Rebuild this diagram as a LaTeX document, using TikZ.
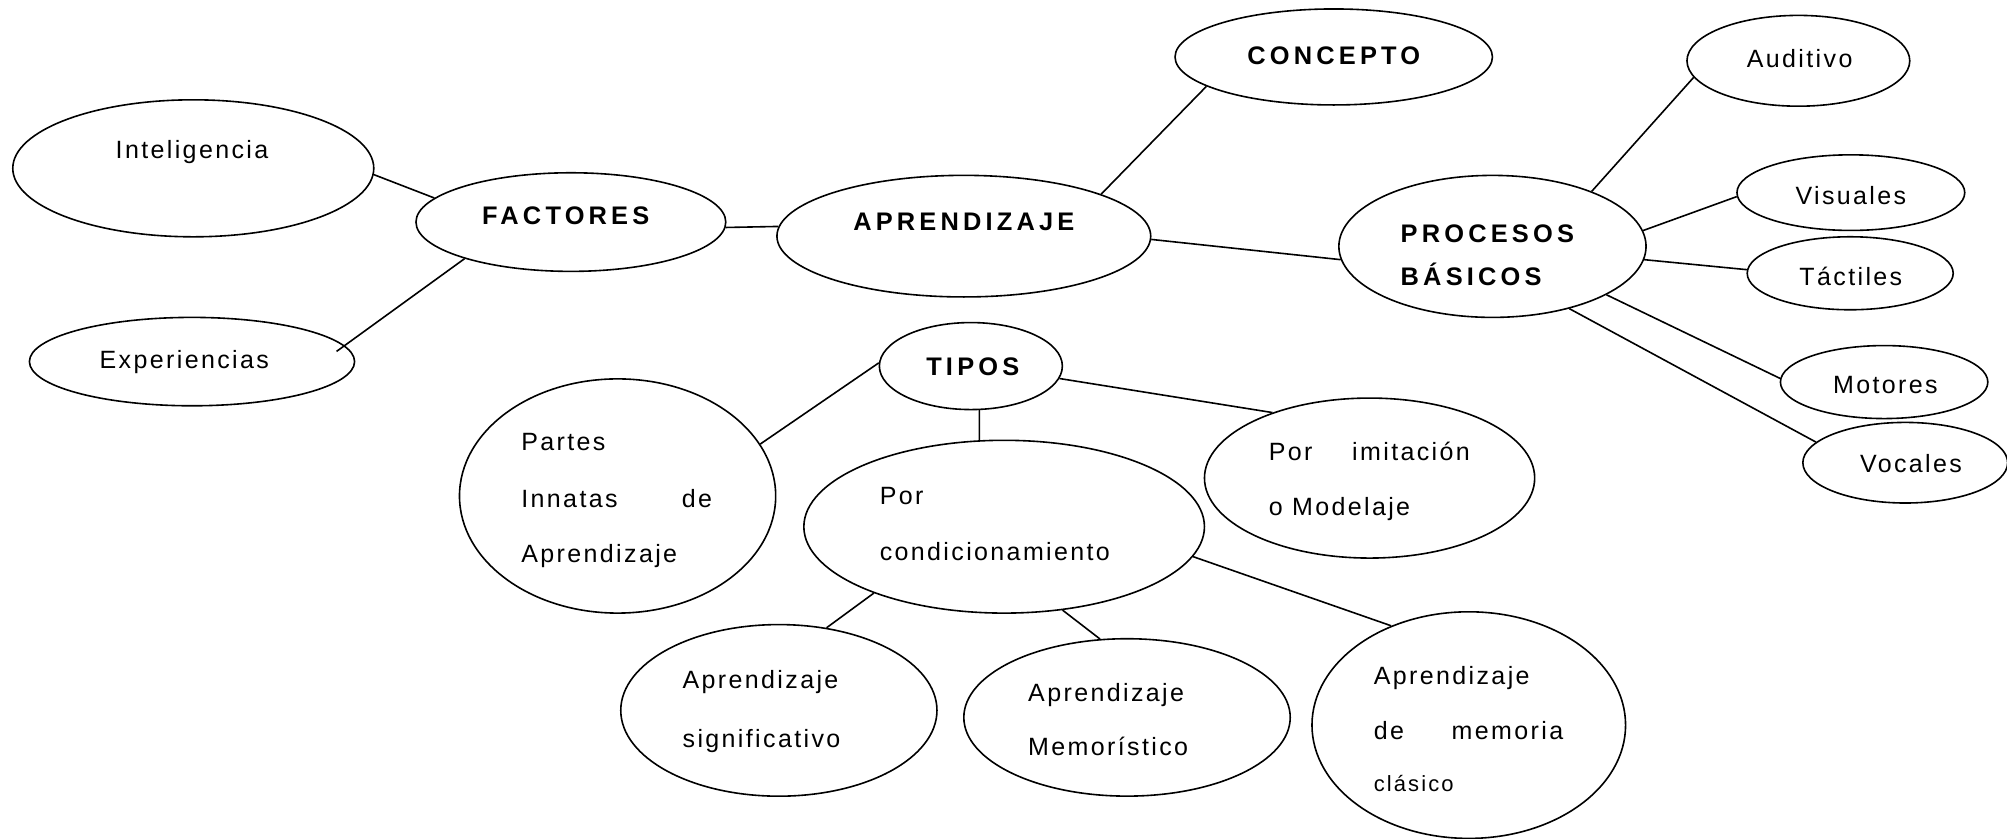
\documentclass[tikz,border=0pt]{standalone}
\usepackage{fontspec}
\setmainfont{Liberation Sans}[LetterSpace=9.5]
\newfontfamily\hdfont{Liberation Sans}[LetterSpace=16.5]
\usetikzlibrary{shapes.geometric}
\tikzset{
  el/.style 2 args={ellipse,draw,line width=0.8pt,inner sep=0pt,minimum width=#1,minimum height=#2},
  txt/.style={font=\fontsize{12.5pt}{15pt}\selectfont,inner sep=0pt},
  sm/.style={font=\fontsize{11pt}{13pt}\selectfont,inner sep=0pt},
  hd/.style={font=\hdfont\bfseries\fontsize{12.7pt}{15pt}\selectfont,inner sep=0pt},
  link/.style={line width=0.8pt}
}
\begin{document}
\begin{tikzpicture}[x=0.64pt,y=-0.64pt]
\useasboundingbox (0,0) rectangle (1568,655);
% ellipses
\node[el={180.5pt}{68.5pt}] (intel) at (151,131.5) {};
\node[el={162.6pt}{44.2pt}] (exper) at (150,282.5) {};
\node[el={154.9pt}{49.3pt}] (fact) at (446,173.5) {};
\node[el={186.9pt}{60.8pt}] (apren) at (753,184.5) {};
\node[el={158.7pt}{48pt}] (conc) at (1042,44.5) {};
\node[el={153.6pt}{71pt}] (proc) at (1166,192.5) {};
\node[el={111.4pt}{45.4pt}] (audit) at (1405,47.5) {};
\node[el={113.9pt}{37.8pt}] (visu) at (1446,150.5) {};
\node[el={103pt}{36.5pt}] (tact) at (1445.5,213.5) {};
\node[el={103.7pt}{36.5pt}] (motor) at (1472,298.5) {};
\node[el={102.4pt}{40.3pt}] (vocal) at (1488.5,361.5) {};
\node[el={91.5pt}{43.5pt}] (tipos) at (758.5,286) {};
\node[el={158.1pt}{117.1pt}] (partes) at (482.5,387.5) {};
\node[el={200.3pt}{86.4pt}] (cond) at (784.5,411.5) {};
\node[el={165.1pt}{80pt}] (imit) at (1070,373.5) {};
\node[el={158.1pt}{85.8pt}] (signif) at (608.5,555) {};
\node[el={163.2pt}{78.7pt}] (memo) at (880.5,560.5) {};
\node[el={156.8pt}{113.3pt}] (clas) at (1147.5,566.5) {};
% texts
\node[txt,anchor=mid] (tIntel) at (150,120) {Inteligencia};
\node[txt,anchor=mid] (tExper) at (144,284) {Experiencias};
\node[hd,anchor=mid] (tFact) at (442,171) {FACTORES};
\node[hd,anchor=mid] (tApren) at (753,176) {APRENDIZAJE};
\node[hd,anchor=mid] (tConc) at (1042,46) {CONCEPTO};
\node[hd,anchor=mid west] (tProc1) at (1094,185) {PROCESOS};
\node[hd,anchor=mid west] (tProc2) at (1094,219) {BÁSICOS};
\node[txt,anchor=mid] (tAudit) at (1406,49) {Auditivo};
\node[txt,anchor=mid] (tVisu) at (1446,156) {Visuales};
\node[txt,anchor=mid] (tTact) at (1446,219) {Táctiles};
\node[txt,anchor=mid] (tMotor) at (1473,303) {Motores};
\node[txt,anchor=mid] (tVocal) at (1493,365) {Vocales};
\node[hd,anchor=mid] (tTipos) at (760,289) {TIPOS};
\node[txt,anchor=mid west] (tPartes1) at (407,348) {Partes};
\node[txt,anchor=mid west] (tPartes2) at (407,392) {\makebox[95.4pt][l]{Innatas\hfill de}};
\node[txt,anchor=mid west] (tPartes3) at (407,435) {Aprendizaje};
\node[txt,anchor=mid west] (tCond1) at (687,390) {Por};
\node[txt,anchor=mid west] (tCond2) at (687,434) {condicionamiento};
\node[txt,anchor=mid west] (tImit1) at (991,356) {\makebox[100.5pt][l]{Por\hfill imitación}};
\node[txt,anchor=mid west] (tImit2) at (991,399) {o Modelaje};
\node[txt,anchor=mid west] (tSig1) at (533,534) {Aprendizaje};
\node[txt,anchor=mid west] (tSig2) at (533,580) {significativo};
\node[txt,anchor=mid west] (tMemo1) at (803,544) {Aprendizaje};
\node[txt,anchor=mid west] (tMemo2) at (803,586) {Memorístico};
\node[txt,anchor=mid west] (tClas1) at (1073,531) {Aprendizaje};
\node[txt,anchor=mid west] (tClas2) at (1073,574) {\makebox[94.7pt][l]{de\hfill memoria}};
\node[sm,anchor=mid west] (tClas3) at (1073,614) {clásico};
% connectors
\draw[link] (intel.-2.2) -- (fact.170.6);
\draw[link,shorten <=-5pt] (exper.6.5) -- (fact.199.1);
\draw[link] (fact.-2.6) -- (apren.177.8);
\draw[link] (apren.17.4) -- (conc.193.8);
\draw[link] (apren.-1) -- (proc.185);
\draw[link] (proc.29.4) -- (audit.189);
\draw[link] (proc.6.5) -- (visu.182.3);
\draw[link] (proc.-5.1) -- (tact.178.9);
\draw[link] (proc.-23.5) -- (motor.178.2);
\draw[link] (proc.-39.9) -- (vocal.167);
\draw[link] (tipos.178.4) -- (partes.20.9);
\draw[link] (tipos.-8) -- (imit.146.6);
\draw[link] (tipos.-79.2) -- (cond.106.1);
\draw[link] (cond.207.6) -- (signif.60);
\draw[link] (cond.-55.4) -- (memo.109.6);
\draw[link] (cond.-9.6) -- (clas.128.8);
\end{tikzpicture}
\end{document}
